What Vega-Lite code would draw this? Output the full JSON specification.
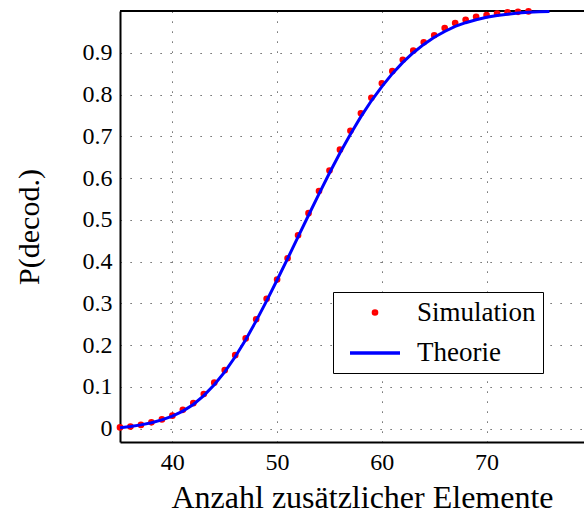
{
  "$schema": "https://vega.github.io/schema/vega-lite/v6.json",
  "width": 464,
  "height": 431,
  "autosize": {"type": "none"},
  "padding": {"left": 120, "top": 11, "right": 0, "bottom": 74},
  "background": "white",
  "config": {
    "font": "Liberation Serif",
    "view": {"stroke": null},
    "axis": {
      "domainColor": "black",
      "domainWidth": 2,
      "ticks": false,
      "grid": true,
      "gridColor": "#000000",
      "gridOpacity": 0.75,
      "gridDash": [1.2, 8.8],
      "gridWidth": 1,
      "labelFont": "Liberation Serif",
      "labelFontSize": 24,
      "labelColor": "black",
      "labelPadding": 8,
      "titleFont": "Liberation Serif",
      "titleFontWeight": "normal",
      "titleColor": "black"
    },
    "legend": {"labelFont": "Liberation Serif"}
  },
  "data": {
    "values": [
      {"x": 35, "p": 0.003, "series": "Simulation"},
      {"x": 36, "p": 0.005, "series": "Simulation"},
      {"x": 37, "p": 0.009, "series": "Simulation"},
      {"x": 38, "p": 0.015, "series": "Simulation"},
      {"x": 39, "p": 0.022, "series": "Simulation"},
      {"x": 40, "p": 0.031, "series": "Simulation"},
      {"x": 41, "p": 0.045, "series": "Simulation"},
      {"x": 42, "p": 0.061, "series": "Simulation"},
      {"x": 43, "p": 0.083, "series": "Simulation"},
      {"x": 44, "p": 0.110, "series": "Simulation"},
      {"x": 45, "p": 0.140, "series": "Simulation"},
      {"x": 46, "p": 0.176, "series": "Simulation"},
      {"x": 47, "p": 0.216, "series": "Simulation"},
      {"x": 48, "p": 0.262, "series": "Simulation"},
      {"x": 49, "p": 0.311, "series": "Simulation"},
      {"x": 50, "p": 0.357, "series": "Simulation"},
      {"x": 51, "p": 0.408, "series": "Simulation"},
      {"x": 52, "p": 0.463, "series": "Simulation"},
      {"x": 53, "p": 0.516, "series": "Simulation"},
      {"x": 54, "p": 0.569, "series": "Simulation"},
      {"x": 55, "p": 0.618, "series": "Simulation"},
      {"x": 56, "p": 0.668, "series": "Simulation"},
      {"x": 57, "p": 0.713, "series": "Simulation"},
      {"x": 58, "p": 0.755, "series": "Simulation"},
      {"x": 59, "p": 0.792, "series": "Simulation"},
      {"x": 60, "p": 0.827, "series": "Simulation"},
      {"x": 61, "p": 0.856, "series": "Simulation"},
      {"x": 62, "p": 0.883, "series": "Simulation"},
      {"x": 63, "p": 0.905, "series": "Simulation"},
      {"x": 64, "p": 0.925, "series": "Simulation"},
      {"x": 65, "p": 0.942, "series": "Simulation"},
      {"x": 66, "p": 0.959, "series": "Simulation"},
      {"x": 67, "p": 0.971, "series": "Simulation"},
      {"x": 68, "p": 0.979, "series": "Simulation"},
      {"x": 69, "p": 0.986, "series": "Simulation"},
      {"x": 70, "p": 0.990, "series": "Simulation"},
      {"x": 71, "p": 0.994, "series": "Simulation"},
      {"x": 72, "p": 0.997, "series": "Simulation"},
      {"x": 73, "p": 0.998, "series": "Simulation"},
      {"x": 74, "p": 0.999, "series": "Simulation"},
      {"x": 35, "p": 0.002, "series": "Theorie"},
      {"x": 36, "p": 0.005, "series": "Theorie"},
      {"x": 37, "p": 0.009, "series": "Theorie"},
      {"x": 38, "p": 0.014, "series": "Theorie"},
      {"x": 39, "p": 0.021, "series": "Theorie"},
      {"x": 40, "p": 0.030, "series": "Theorie"},
      {"x": 41, "p": 0.042, "series": "Theorie"},
      {"x": 42, "p": 0.058, "series": "Theorie"},
      {"x": 43, "p": 0.079, "series": "Theorie"},
      {"x": 44, "p": 0.105, "series": "Theorie"},
      {"x": 45, "p": 0.136, "series": "Theorie"},
      {"x": 46, "p": 0.172, "series": "Theorie"},
      {"x": 47, "p": 0.213, "series": "Theorie"},
      {"x": 48, "p": 0.258, "series": "Theorie"},
      {"x": 49, "p": 0.306, "series": "Theorie"},
      {"x": 50, "p": 0.356, "series": "Theorie"},
      {"x": 51, "p": 0.407, "series": "Theorie"},
      {"x": 52, "p": 0.459, "series": "Theorie"},
      {"x": 53, "p": 0.511, "series": "Theorie"},
      {"x": 54, "p": 0.562, "series": "Theorie"},
      {"x": 55, "p": 0.612, "series": "Theorie"},
      {"x": 56, "p": 0.660, "series": "Theorie"},
      {"x": 57, "p": 0.705, "series": "Theorie"},
      {"x": 58, "p": 0.747, "series": "Theorie"},
      {"x": 59, "p": 0.785, "series": "Theorie"},
      {"x": 60, "p": 0.819, "series": "Theorie"},
      {"x": 61, "p": 0.850, "series": "Theorie"},
      {"x": 62, "p": 0.877, "series": "Theorie"},
      {"x": 63, "p": 0.900, "series": "Theorie"},
      {"x": 64, "p": 0.920, "series": "Theorie"},
      {"x": 65, "p": 0.937, "series": "Theorie"},
      {"x": 66, "p": 0.951, "series": "Theorie"},
      {"x": 67, "p": 0.963, "series": "Theorie"},
      {"x": 68, "p": 0.972, "series": "Theorie"},
      {"x": 69, "p": 0.979, "series": "Theorie"},
      {"x": 70, "p": 0.985, "series": "Theorie"},
      {"x": 71, "p": 0.989, "series": "Theorie"},
      {"x": 72, "p": 0.992, "series": "Theorie"},
      {"x": 73, "p": 0.995, "series": "Theorie"},
      {"x": 74, "p": 0.997, "series": "Theorie"},
      {"x": 75, "p": 0.998, "series": "Theorie"},
      {"x": 76, "p": 0.999, "series": "Theorie"}
    ]
  },
  "layer": [
    {
      "mark": {"type": "rule", "color": "black", "strokeWidth": 2},
      "encoding": {"y": {"datum": 1.0, "type": "quantitative"}}
    },
    {
      "transform": [{"filter": "datum.series === 'Simulation'"}],
      "mark": {"type": "point", "filled": false, "opacity": 1, "strokeWidth": 3.5},
      "encoding": {
        "x": {
          "field": "x",
          "type": "quantitative",
          "scale": {"domain": [35, 79.3], "nice": false, "zero": false},
          "axis": {
            "values": [40, 50, 60, 70],
            "labelFont": "Liberation Serif",
            "titleFont": "Liberation Serif",
            "title": "Anzahl zusätzlicher Elemente",
            "titleFontSize": 32,
            "titlePadding": 8,
            "titleX": 242
          }
        },
        "y": {
          "field": "p",
          "type": "quantitative",
          "scale": {"domain": [-0.032, 1.0], "nice": false, "zero": false},
          "axis": {
            "values": [0, 0.1, 0.2, 0.3, 0.4, 0.5, 0.6, 0.7, 0.8, 0.9],
            "format": ".1~f",
            "labelFont": "Liberation Serif",
            "titleFont": "Liberation Serif",
            "title": "P(decod.)",
            "titleFontSize": 30,
            "titlePadding": 38
          }
        },
        "shape": {
          "field": "series",
          "type": "nominal",
          "scale": {"domain": ["Simulation", "Theorie"], "range": ["circle", "stroke"]}
        },
        "size": {
          "field": "series",
          "type": "nominal",
          "scale": {"domain": ["Simulation", "Theorie"], "range": [10, 2500]}
        },
        "color": {
          "field": "series",
          "type": "nominal",
          "scale": {"domain": ["Simulation", "Theorie"], "range": ["#ff0000", "#0000ff"]},
          "legend": {
            "orient": "none",
            "legendX": 213,
            "legendY": 281,
            "title": null,
            "strokeColor": "black",
            "fillColor": "white",
            "padding": 7,
            "labelFont": "Liberation Serif",
            "labelFontSize": 27,
            "labelColor": "black",
            "rowPadding": -6,
            "symbolStrokeWidth": 3.5,
            "symbolOffset": 8,
            "labelOffset": 15
          }
        }
      }
    },
    {
      "transform": [{"filter": "datum.series === 'Theorie'"}],
      "mark": {"type": "line", "strokeWidth": 3},
      "encoding": {
        "x": {"field": "x", "type": "quantitative"},
        "y": {"field": "p", "type": "quantitative"},
        "color": {"field": "series", "type": "nominal", "legend": null}
      }
    }
  ]
}
